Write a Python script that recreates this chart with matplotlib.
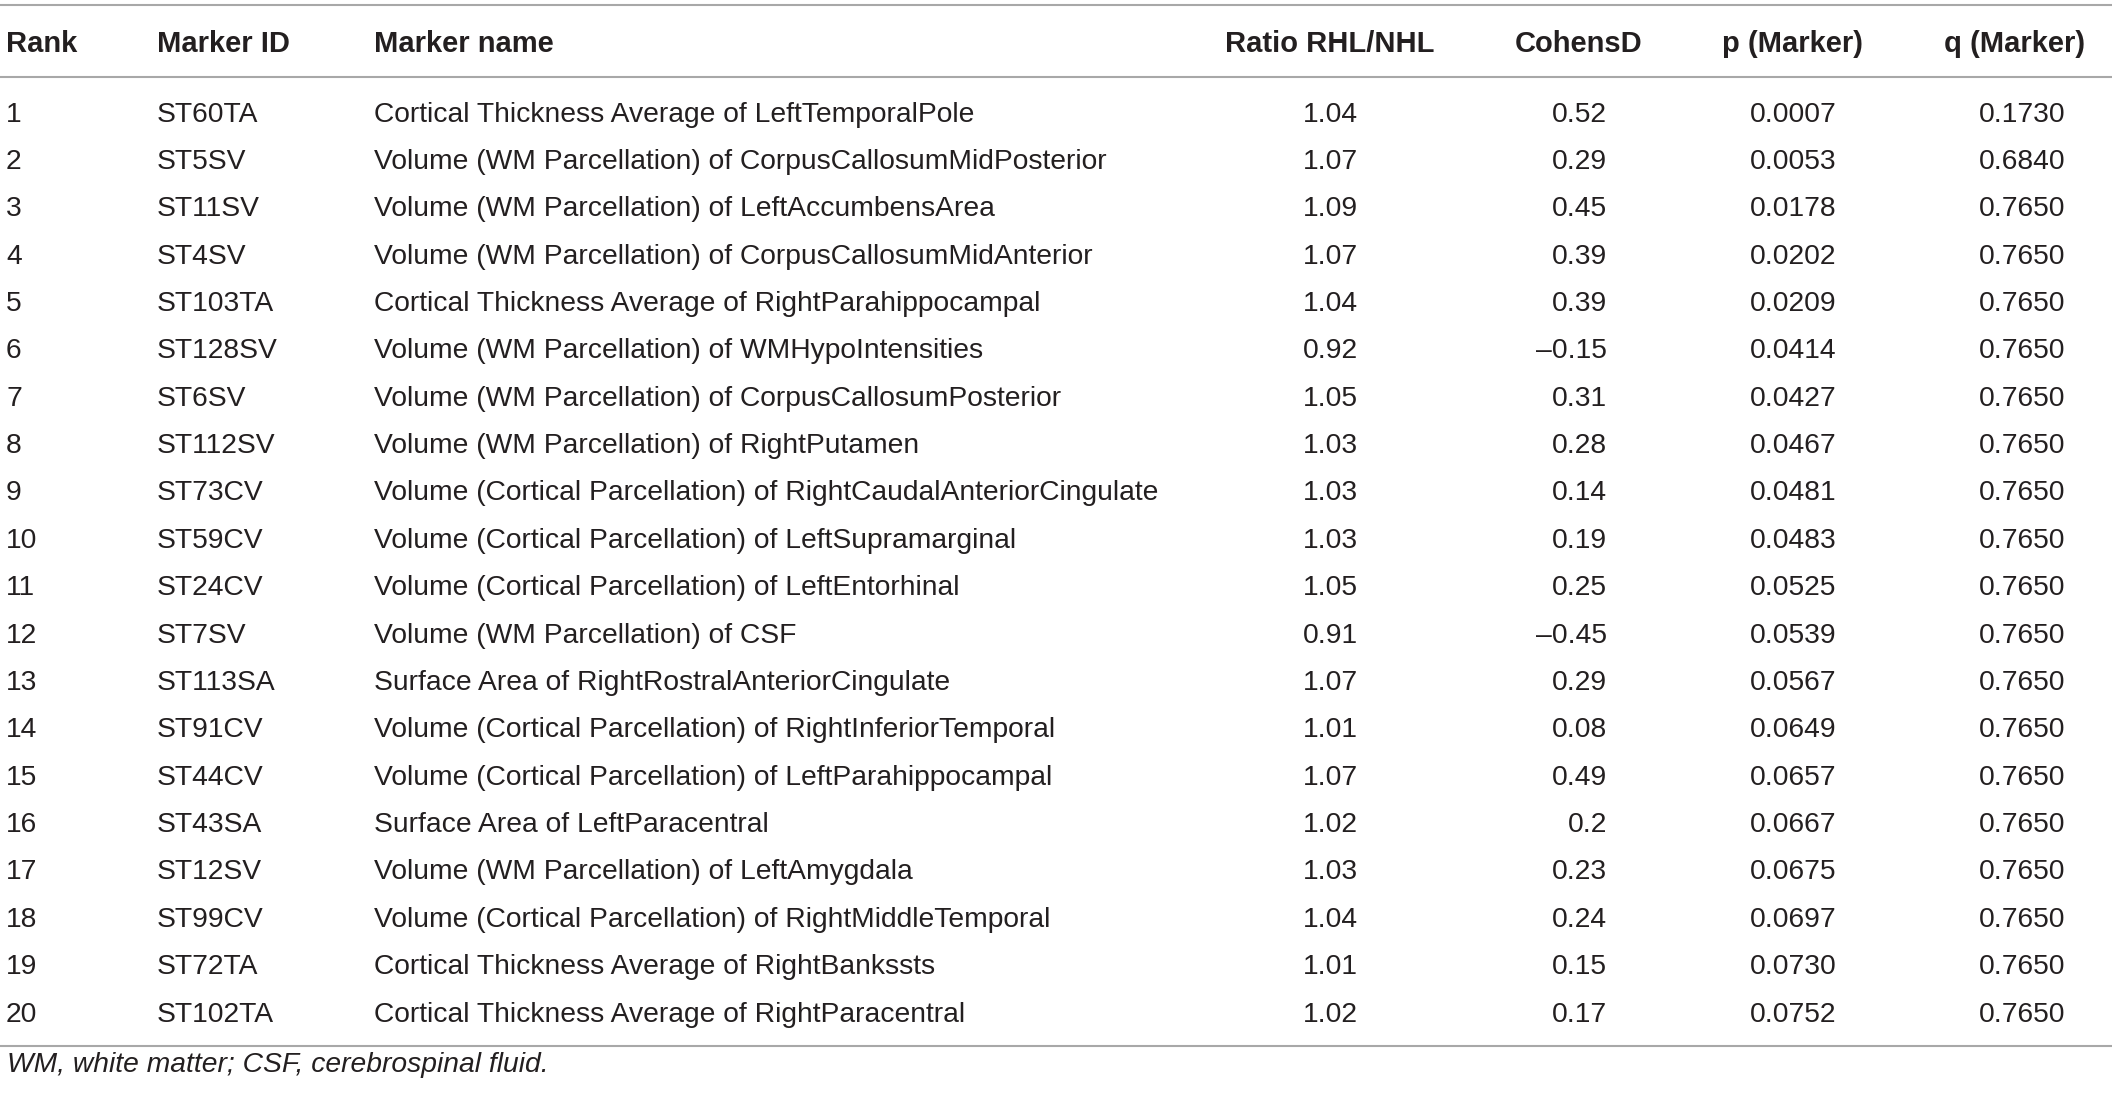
import matplotlib.pyplot as plt

ranks = list(range(1, 21))
marker_ids = ["ST60TA", "ST5SV", "ST11SV", "ST4SV", "ST103TA", "ST128SV", "ST6SV",
              "ST112SV", "ST73CV", "ST59CV", "ST24CV", "ST7SV", "ST113SA", "ST91CV",
              "ST44CV", "ST43SA", "ST12SV", "ST99CV", "ST72TA", "ST102TA"]
marker_names = [
    "Cortical Thickness Average of LeftTemporalPole",
    "Volume (WM Parcellation) of CorpusCallosumMidPosterior",
    "Volume (WM Parcellation) of LeftAccumbensArea",
    "Volume (WM Parcellation) of CorpusCallosumMidAnterior",
    "Cortical Thickness Average of RightParahippocampal",
    "Volume (WM Parcellation) of WMHypoIntensities",
    "Volume (WM Parcellation) of CorpusCallosumPosterior",
    "Volume (WM Parcellation) of RightPutamen",
    "Volume (Cortical Parcellation) of RightCaudalAnteriorCingulate",
    "Volume (Cortical Parcellation) of LeftSupramarginal",
    "Volume (Cortical Parcellation) of LeftEntorhinal",
    "Volume (WM Parcellation) of CSF",
    "Surface Area of RightRostralAnteriorCingulate",
    "Volume (Cortical Parcellation) of RightInferiorTemporal",
    "Volume (Cortical Parcellation) of LeftParahippocampal",
    "Surface Area of LeftParacentral",
    "Volume (WM Parcellation) of LeftAmygdala",
    "Volume (Cortical Parcellation) of RightMiddleTemporal",
    "Cortical Thickness Average of RightBankssts",
    "Cortical Thickness Average of RightParacentral",
]
ratios = [1.04, 1.07, 1.09, 1.07, 1.04, 0.92, 1.05, 1.03, 1.03, 1.03,
          1.05, 0.91, 1.07, 1.01, 1.07, 1.02, 1.03, 1.04, 1.01, 1.02]
cohens_d = [0.52, 0.29, 0.45, 0.39, 0.39, -0.15, 0.31, 0.28, 0.14, 0.19,
            0.25, -0.45, 0.29, 0.08, 0.49, 0.2, 0.23, 0.24, 0.15, 0.17]
p_marker = [0.0007, 0.0053, 0.0178, 0.0202, 0.0209, 0.0414, 0.0427, 0.0467, 0.0481, 0.0483,
            0.0525, 0.0539, 0.0567, 0.0649, 0.0657, 0.0667, 0.0675, 0.0697, 0.0730, 0.0752]
q_marker = [0.1730, 0.6840] + [0.7650] * 18
headers = ["Rank", "Marker ID", "Marker name", "Ratio RHL/NHL", "CohensD", "p (Marker)", "q (Marker)"]
footnote = "WM, white matter; CSF, cerebrospinal fluid."

plt.rcParams['font.family'] = ['Liberation Sans', 'DejaVu Sans']
txt = '#231f20'
gris = '#a8a8a8'

W, H = 2117, 1096
fig = plt.figure(figsize=(W / 100, H / 100), dpi=100)
ax = fig.add_axes([0, 0, 1, 1])
ax.set_xlim(0, W)
ax.set_ylim(H, 0)
ax.axis('off')

# columnas: x del texto, alineacion de la cabecera y de los valores
col_x = [6, 157, 374, 1330, 1579, 1793, 2015]
val_x = [6, 157, 374, 1330, 1607, 1793, 2022]
head_ha = ['left', 'left', 'left', 'center', 'center', 'center', 'center']
val_ha = ['left', 'left', 'left', 'center', 'right', 'center', 'center']

fs_head = 21
fs_body = 20.3

for x, h, ha in zip(col_x, headers, head_ha):
    ax.text(x, 51.5, h, ha=ha, va='baseline', fontsize=fs_head, fontweight='bold', color=txt)

for lin in [5, 77, 1046]:
    ax.plot([0, 2112], [lin, lin], color=gris, lw=1.5, solid_capstyle='butt')

paso = 47.37
for i in range(len(ranks)):
    yb = 121.5 + i * paso
    fila = [str(ranks[i]), marker_ids[i], marker_names[i],
            f"{ratios[i]:.2f}",
            f"{cohens_d[i]:g}".replace('-', '\u2013'),
            f"{p_marker[i]:.4f}",
            f"{q_marker[i]:.4f}"]
    for x, s, ha in zip(val_x, fila, val_ha):
        ax.text(x, yb, s, ha=ha, va='baseline', fontsize=fs_body, color=txt)

ax.text(7, 1072, footnote, ha='left', va='baseline', fontsize=fs_body, style='italic', color=txt)

fig.savefig('out.png', dpi=100)
